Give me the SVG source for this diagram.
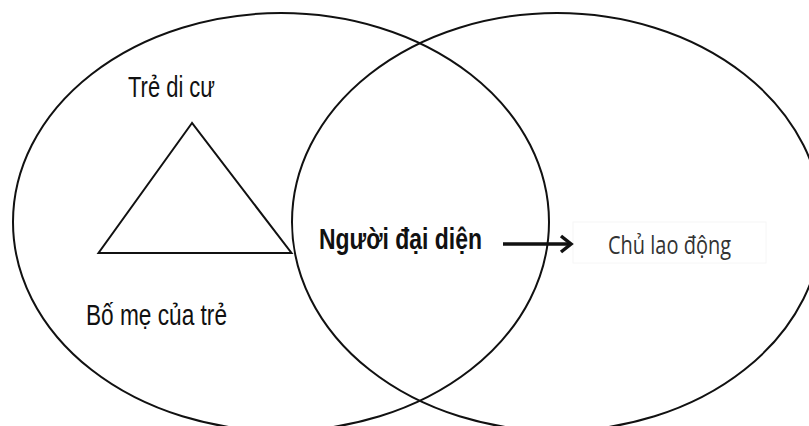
<svg xmlns="http://www.w3.org/2000/svg" width="809" height="426" viewBox="0 0 809 426">
<style>
.shape{fill:none;stroke:#111;stroke-width:2}
.lbl{font-family:"Liberation Sans",Arial,sans-serif;font-size:29px;fill:#111}
.bold{font-weight:bold}
.gray{font-family:"Open Sans","Noto Sans",sans-serif;font-size:25px;fill:#333}
</style>
<rect width="809" height="426" fill="#fff"/>
<g id="left-circle">
<ellipse class="shape" cx="281" cy="222" rx="268" ry="209"/>
</g>
<g id="right-circle">
<ellipse class="shape" cx="557" cy="222" rx="265" ry="209"/>
</g>
<g id="triangle">
<polygon class="shape" points="192,123 98.5,253 291.5,253" stroke-linejoin="miter"/>
</g>
<g id="tre-di-cu">
<text class="lbl" x="128" y="97" textLength="87" lengthAdjust="spacingAndGlyphs">Trẻ di cư</text>
</g>
<g id="bo-me">
<text class="lbl" x="86" y="325" textLength="141" lengthAdjust="spacingAndGlyphs">Bố mẹ của trẻ</text>
</g>
<g id="nguoi-dai-dien">
<text class="lbl bold" x="319" y="249" textLength="163" lengthAdjust="spacingAndGlyphs">Người đại diện</text>
</g>
<g id="chu-lao-dong">
<rect x="573" y="222" width="193" height="41" fill="none" stroke="#f6f6f6" stroke-width="1"/>
<text class="gray" x="608" y="254" textLength="123" lengthAdjust="spacingAndGlyphs">Chủ lao động</text>
</g>
<g id="connectors">
<line x1="503" y1="244" x2="570" y2="244" stroke="#111" stroke-width="3.5"/>
<polyline points="561,236 571,244 561,252" fill="none" stroke="#111" stroke-width="3.5" stroke-linejoin="miter"/>
</g>
</svg>
